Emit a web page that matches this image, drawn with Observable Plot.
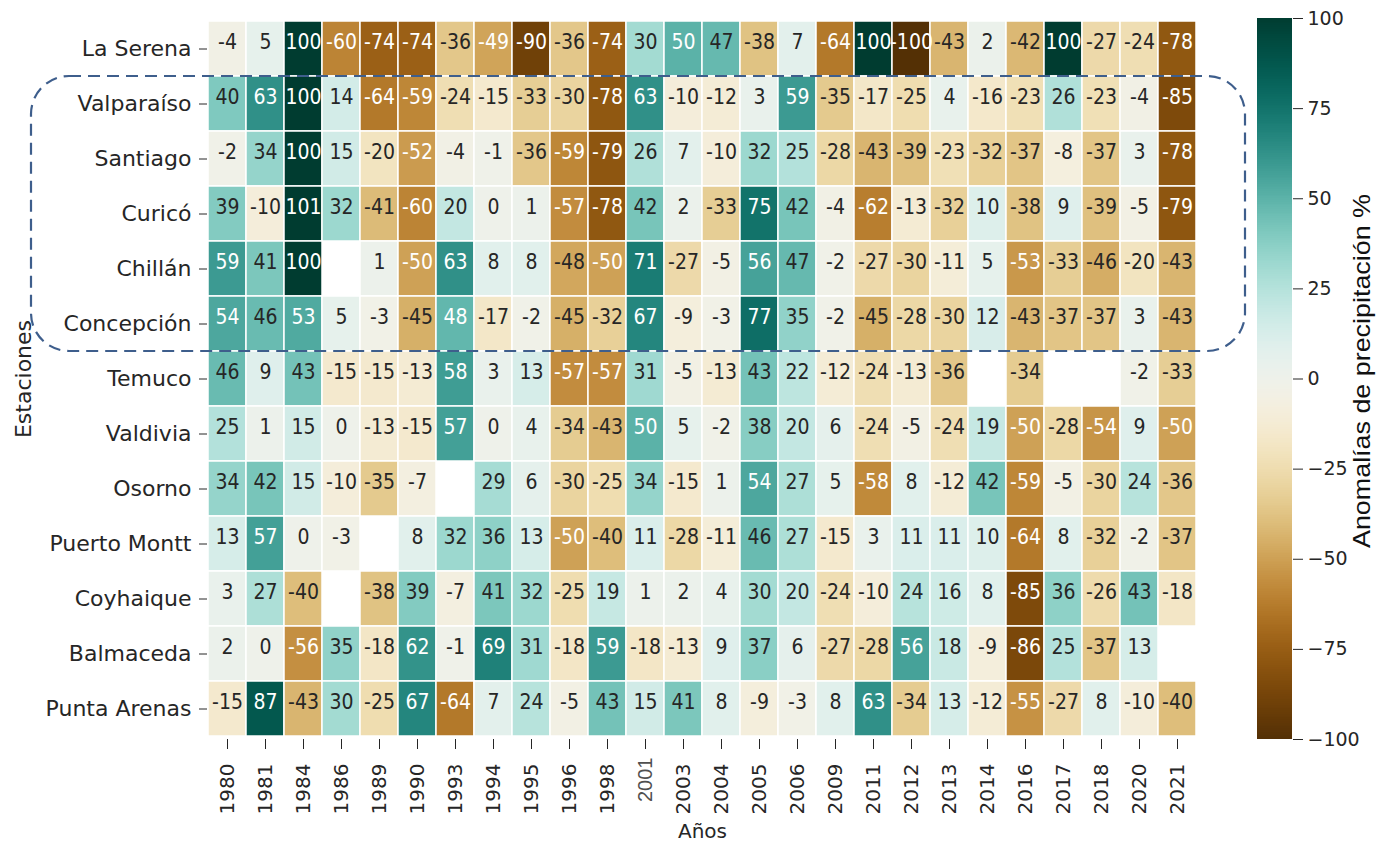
<!DOCTYPE html>
<html>
<head>
<meta charset="utf-8">
<script src="https://cdn.jsdelivr.net/npm/d3@7"></script>
<script src="https://cdn.jsdelivr.net/npm/@observablehq/plot@0.6"></script>
<style>
  html, body { margin: 0; padding: 0; background: white; }
  #wrap { position: relative; width: 1380px; height: 842px; background: white; overflow: hidden; }
  #wrap > svg, #wrap > figure { position: absolute; }
</style>
</head>
<body>
<div id="wrap"></div>
<script>
const years = ["1980","1981","1984","1986","1989","1990","1993","1994","1995","1996","1998","2001","2003","2004","2005","2006","2009","2011","2012","2013","2014","2016","2017","2018","2020","2021"];
const stations = ["La Serena","Valparaíso","Santiago","Curicó","Chillán","Concepción","Temuco","Valdivia","Osorno","Puerto Montt","Coyhaique","Balmaceda","Punta Arenas"];

const laSerena    = [-4,5,100,-60,-74,-74,-36,-49,-90,-36,-74,30,50,47,-38,7,-64,100,-100,-43,2,-42,100,-27,-24,-78];
const valparaiso  = [40,63,100,14,-64,-59,-24,-15,-33,-30,-78,63,-10,-12,3,59,-35,-17,-25,4,-16,-23,26,-23,-4,-85];
const santiago    = [-2,34,100,15,-20,-52,-4,-1,-36,-59,-79,26,7,-10,32,25,-28,-43,-39,-23,-32,-37,-8,-37,3,-78];
const curico      = [39,-10,101,32,-41,-60,20,0,1,-57,-78,42,2,-33,75,42,-4,-62,-13,-32,10,-38,9,-39,-5,-79];
const chillan     = [59,41,100,null,1,-50,63,8,8,-48,-50,71,-27,-5,56,47,-2,-27,-30,-11,5,-53,-33,-46,-20,-43];
const concepcion  = [54,46,53,5,-3,-45,48,-17,-2,-45,-32,67,-9,-3,77,35,-2,-45,-28,-30,12,-43,-37,-37,3,-43];
const temuco      = [46,9,43,-15,-15,-13,58,3,13,-57,-57,31,-5,-13,43,22,-12,-24,-13,-36,null,-34,null,null,-2,-33];
const valdivia    = [25,1,15,0,-13,-15,57,0,4,-34,-43,50,5,-2,38,20,6,-24,-5,-24,19,-50,-28,-54,9,-50];
const osorno      = [34,42,15,-10,-35,-7,null,29,6,-30,-25,34,-15,1,54,27,5,-58,8,-12,42,-59,-5,-30,24,-36];
const puertoMontt = [13,57,0,-3,null,8,32,36,13,-50,-40,11,-28,-11,46,27,-15,3,11,11,10,-64,8,-32,-2,-37];
const coyhaique   = [3,27,-40,null,-38,39,-7,41,32,-25,19,1,2,4,30,20,-24,-10,24,16,8,-85,36,-26,43,-18];
const balmaceda   = [2,0,-56,35,-18,62,-1,69,31,-18,59,-18,-13,9,37,6,-27,-28,56,18,-9,-86,25,-37,13,null];
const puntaArenas = [-15,87,-43,30,-25,67,-64,7,24,-5,43,15,41,8,-9,-3,8,63,-34,13,-12,-55,-27,8,-10,-40];

const colorbarTicks = [-100,-75,-50,-25,0,25,50,75,100];

const seriesByStation = [laSerena, valparaiso, santiago, curico, chillan, concepcion, temuco, valdivia, osorno, puertoMontt, coyhaique, balmaceda, puntaArenas];
const data = stations.flatMap((s, r) => seriesByStation[r].map((v, i) => ({station: s, year: years[i], value: v})))
  .filter(d => d.value != null);

const isLight = d => d.value >= 48 || d.value <= -49;
const colorOpts = {type: "linear", scheme: "BrBG", domain: [-100, 100], clamp: true};
const FONT = "'DejaVu Sans', sans-serif";
const wrap = document.getElementById("wrap");

const heat = Plot.plot({
  width: 1240, height: 842,
  marginLeft: 207, marginRight: 43, marginTop: 18, marginBottom: 103,
  style: {fontFamily: FONT, fontSize: "20px", color: "#262626", background: "transparent", overflow: "visible"},
  x: {domain: years, padding: 0},
  y: {domain: stations, padding: 0},
  color: colorOpts,
  marks: [
    Plot.cell(data, {x: "year", y: "station", fill: "value", stroke: "white", strokeWidth: 1.5}),
    Plot.text(data.filter(d => !isLight(d)), {x: "year", y: "station", text: d => String(d.value), fill: "#262626", fontSize: 21.5}),
    Plot.text(data.filter(isLight), {x: "year", y: "station", text: d => String(d.value), fill: "white", fontSize: 21.5}),
    Plot.axisX({anchor: "bottom", tickRotate: -90, tickSize: 10, tickPadding: 14, fontSize: 20, label: "Años", labelAnchor: "center", labelOffset: 98}),
    Plot.axisY({anchor: "left", tickSize: 8, tickPadding: 8, fontSize: 22, label: "Estaciones", labelAnchor: "center", labelOffset: 192})
  ]
});
heat.style.left = "0px"; heat.style.top = "0px";
// narrow the cell annotation glyphs like the reference
heat.querySelectorAll('g[aria-label="text"] text').forEach(t => {
  const tr = t.getAttribute("transform") || "";
  const x = +t.getAttribute("x") || 0, y = +t.getAttribute("y") || 0;
  t.removeAttribute("x"); t.removeAttribute("y");
  t.setAttribute("transform", `${tr} translate(${x},${y}) scale(0.88,1)`);
});
// "2001" was retyped in the reference with a lighter face, slightly higher
heat.querySelectorAll('g[aria-label="x-axis tick label"] text').forEach(t => {
  if (t.textContent === "2001") {
    t.setAttribute("font-family", "'Liberation Sans', Arial, sans-serif");
    t.setAttribute("fill", "#505050");
    t.setAttribute("dx", "6");
  }
});
wrap.appendChild(heat);

// colour bar
const cbSteps = d3.range(-100, 100, 0.5);
const cb = Plot.plot({
  width: 150, height: 842,
  marginLeft: 0, marginRight: 115, marginTop: 18, marginBottom: 103,
  style: {fontFamily: FONT, fontSize: "19px", color: "#262626", background: "transparent", overflow: "visible"},
  x: {domain: [0, 1], axis: null},
  y: {domain: [-100, 100], axis: null},
  color: colorOpts,
  marks: [
    Plot.rect(cbSteps, {x1: 0, x2: 1, y1: d => d, y2: d => d + 0.5, fill: d => d, shapeRendering: "crispEdges"}),
    Plot.axisY({anchor: "right", ticks: colorbarTicks, tickFormat: d3.format("d"), tickSize: 10, tickPadding: 5, fontSize: 19, label: null})
  ]
});
cb.style.left = "1257px"; cb.style.top = "0px";
wrap.appendChild(cb);

// overlay: dashed highlight box and colour-bar title
const yScale = heat.scale("y");
const boxTop = yScale.apply("Valparaíso");
const boxBottom = yScale.apply("Concepción") + yScale.bandwidth;
const ns = "http://www.w3.org/2000/svg";
const ov = document.createElementNS(ns, "svg");
ov.setAttribute("width", 1380); ov.setAttribute("height", 842);
ov.style.left = "0px"; ov.style.top = "0px"; ov.style.pointerEvents = "none";
const box = document.createElementNS(ns, "rect");
box.setAttribute("x", 31); box.setAttribute("y", boxTop);
box.setAttribute("width", 1245 - 31); box.setAttribute("height", boxBottom - boxTop);
box.setAttribute("rx", 38); box.setAttribute("ry", 38);
box.setAttribute("fill", "none"); box.setAttribute("stroke", "#3E5E8C");
box.setAttribute("stroke-width", 2.2); box.setAttribute("stroke-dasharray", "12 7");
ov.appendChild(box);
const cbTitle = document.createElementNS(ns, "text");
cbTitle.textContent = "Anomalías de precipitación %";
cbTitle.setAttribute("transform", "translate(1370,371) rotate(-90)");
cbTitle.setAttribute("text-anchor", "middle");
cbTitle.setAttribute("font-family", "'Liberation Sans', Arial, sans-serif");
cbTitle.setAttribute("font-size", 24);
cbTitle.setAttribute("textLength", 354);
cbTitle.setAttribute("lengthAdjust", "spacingAndGlyphs");
cbTitle.setAttribute("fill", "#111");
ov.appendChild(cbTitle);
wrap.appendChild(ov);
</script>
</body>
</html>
